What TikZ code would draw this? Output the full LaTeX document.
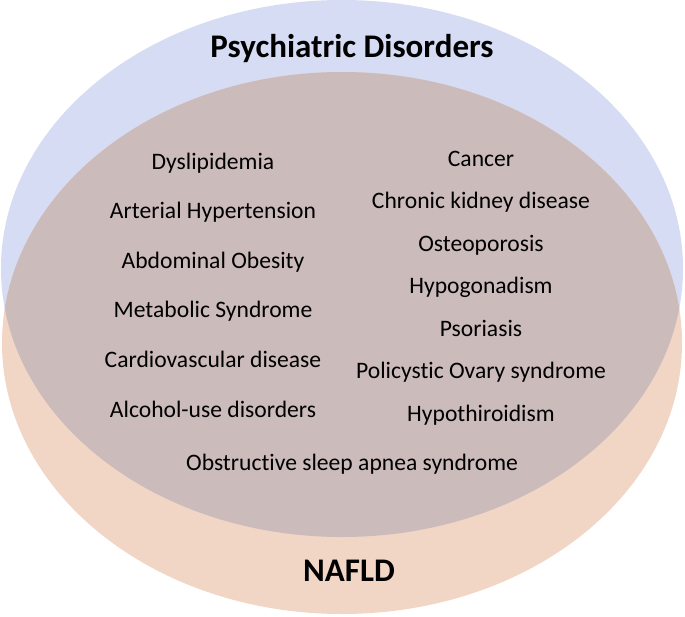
\documentclass[tikz,border=0pt]{standalone}
\usepackage{fontspec}
\setmainfont[Ligatures=NoCommon]{Carlito}
\usetikzlibrary{matrix}

\definecolor{psyblue}{RGB}{213,220,243}
\definecolor{nafldpeach}{RGB}{241,214,198}
\definecolor{overlap}{RGB}{204,187,187}

\tikzset{
  item/.style={font=\fontsize{23.6}{26}\selectfont, inner sep=0pt, text height=17pt, text depth=5pt},
  setlabel/.style={font=\bfseries\fontsize{33}{36}\selectfont, inner sep=0pt}
}

\begin{document}
\begin{tikzpicture}[x=1pt,y=-1pt]
   \useasboundingbox (0,0) rectangle (685,616);
   % the two sets
   \fill[psyblue] (342,268.5) ellipse [x radius=341pt, y radius=268.5pt];
   \fill[nafldpeach] (342,343) ellipse [x radius=340pt, y radius=271pt];
   \begin{scope}
      \clip (342,268.5) ellipse [x radius=341pt, y radius=268.5pt];
      \fill[overlap] (342,343) ellipse [x radius=340pt, y radius=271pt];
   \end{scope}

   \node[setlabel] (psy) at (352,49) {Psychiatric Disorders};
   \node[setlabel] (nafld) at (349,571) {NAFLD};

   % left column
   \matrix (leftcol) [row sep=27.6pt, nodes={item}] at (213,287)
   {
      \node (dys) {Dyslipidemia};             \\
      \node (hyper) {Arterial Hypertension};  \\
      \node (obes) {Abdominal Obesity};       \\
      \node (metab) {Metabolic Syndrome};     \\
      \node (cardio) {Cardiovascular disease};\\
      \node (alc) {Alcohol-use disorders};    \\
   };
   % right column
   \matrix (rightcol) [row sep=20.5pt, nodes={item}] at (481,287.5)
   {
      \node (canc) {Cancer};                      \\
      \node (ckd) {Chronic kidney disease};       \\
      \node (osteo) {Osteoporosis};               \\
      \node (hypog) {Hypogonadism};               \\
      \node (psor) {Psoriasis};                   \\
      \node (pcos) {Policystic Ovary syndrome};   \\
      \node (hypot) {Hypothiroidism};             \\
   };

   \node[item] (osas) at (352,464) {Obstructive sleep apnea syndrome};
\end{tikzpicture}
\end{document}
